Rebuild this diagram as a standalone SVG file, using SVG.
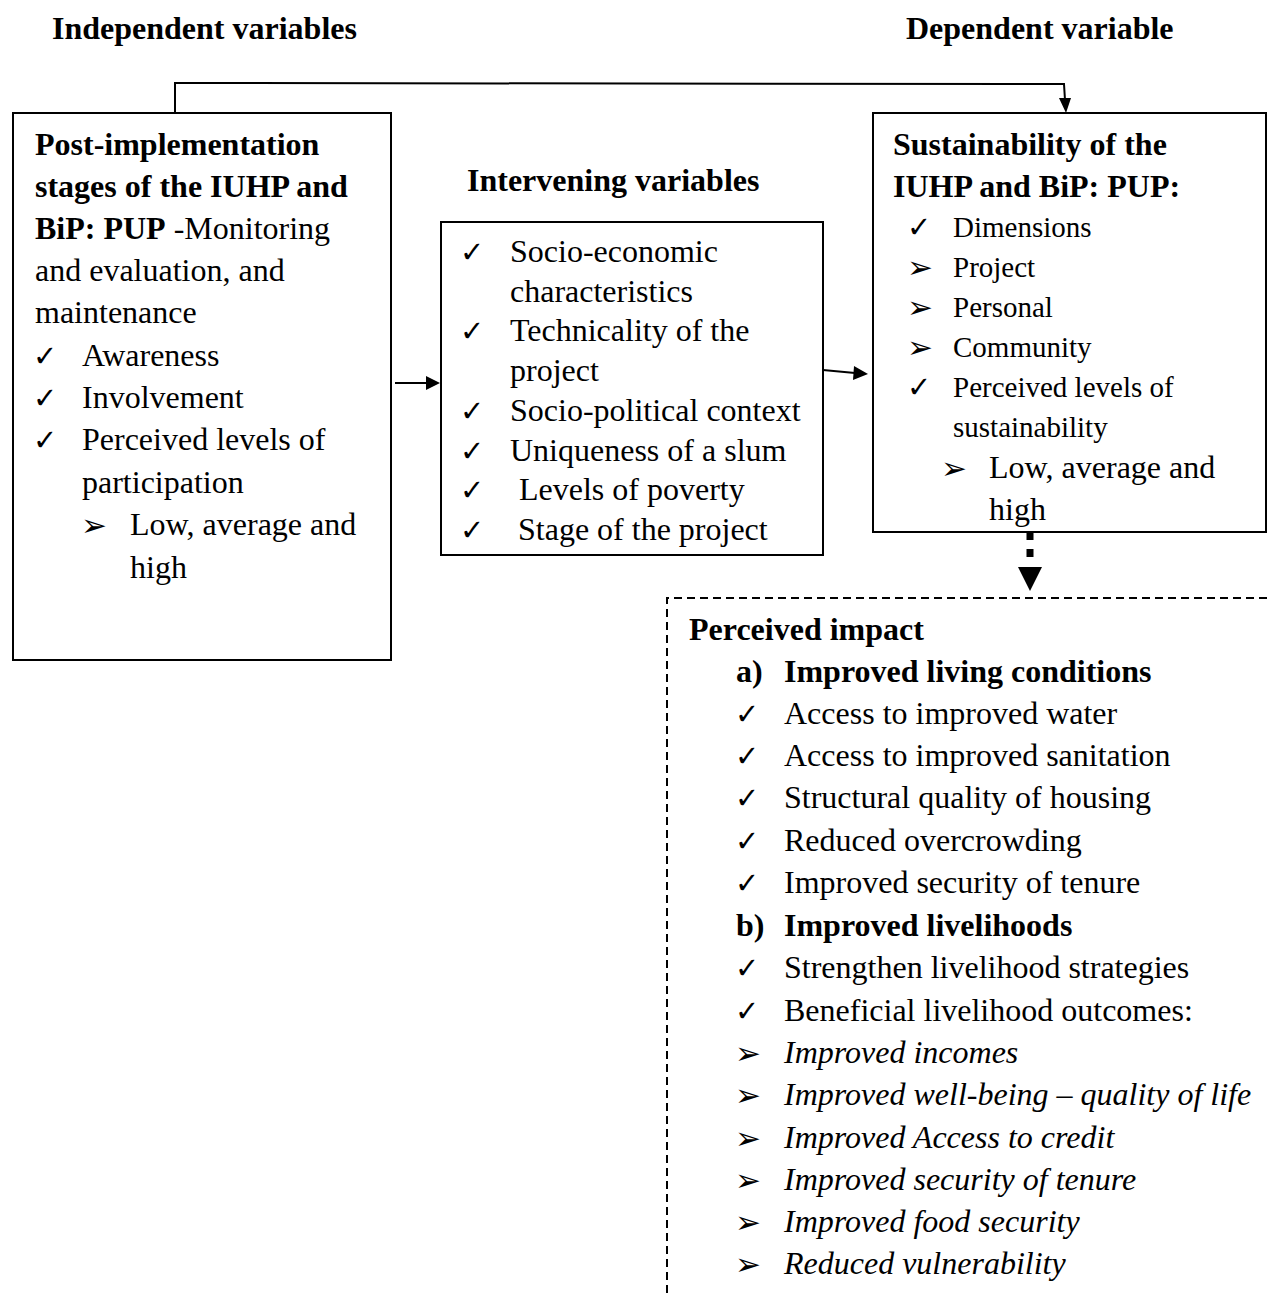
<svg xmlns="http://www.w3.org/2000/svg" width="1270" height="1293" viewBox="0 0 1270 1293">
<style>
text{font-family:"Liberation Serif","Times New Roman",serif;font-size:32px;fill:#000}
.b{font-weight:bold}
.i{font-style:italic}
.s{font-size:29px}
.g{font-family:"DejaVu Sans",sans-serif;font-size:29px}
.a{font-family:"DejaVu Sans",sans-serif;font-size:31px}
.box{fill:#fff;stroke:#000;stroke-width:2}
.conn{fill:none;stroke:#000;stroke-width:2}
</style>
<rect width="1270" height="1293" fill="#fff"/>

<g id="headings">
<text class="b" x="52" y="39">Independent variables</text>
<text class="b" x="906" y="39">Dependent variable</text>
<text class="b" x="467" y="191">Intervening variables</text>
</g>

<g id="connectors">
<polyline class="conn" points="175,113 175,83 1064,84 1065,100"/>
<path d="M1059,98 L1071,98 L1066,113 z" fill="#000"/>
<line class="conn" x1="395" y1="383" x2="428" y2="383"/>
<path d="M426,376 L440,383 L426,390 z" fill="#000"/>
<line class="conn" x1="823" y1="370" x2="855" y2="373"/>
<path d="M854,366 L868,374 L853,380 z" fill="#000"/>
<line x1="1030" y1="532" x2="1030" y2="562" stroke="#000" stroke-width="7" stroke-dasharray="8,9"/>
<path d="M1018,567 L1042,567 L1030,591 z" fill="#000"/>
</g>

<g id="node-independent">
<rect class="box" x="13" y="113" width="378" height="547"/>
<text class="b" x="35" y="155">Post-implementation</text>
<text class="b" x="35" y="197">stages of the IUHP and</text>
<text x="35" y="239"><tspan class="b">BiP: PUP</tspan> -Monitoring</text>
<text x="35" y="281">and evaluation, and</text>
<text x="35" y="323">maintenance</text>
<text class="g" x="33" y="366">✓</text><text x="82" y="366">Awareness</text>
<text class="g" x="33" y="408">✓</text><text x="82" y="408">Involvement</text>
<text class="g" x="33" y="450">✓</text><text x="82" y="450">Perceived levels of</text>
<text x="82" y="493">participation</text>
<text class="a" x="81" y="536">➢</text><text x="130" y="535">Low, average and</text>
<text x="130" y="578">high</text>
</g>

<g id="node-intervening">
<rect class="box" x="441" y="222" width="382" height="333"/>
<text class="g" x="460" y="262">✓</text><text x="510" y="262">Socio-economic</text>
<text x="510" y="302">characteristics</text>
<text class="g" x="460" y="341">✓</text><text x="510" y="341">Technicality of the</text>
<text x="510" y="381">project</text>
<text class="g" x="460" y="421">✓</text><text x="510" y="421">Socio-political context</text>
<text class="g" x="460" y="461">✓</text><text x="510" y="461">Uniqueness of a slum</text>
<text class="g" x="460" y="500">✓</text><text x="519" y="500">Levels of poverty</text>
<text class="g" x="460" y="540">✓</text><text x="518" y="540">Stage of the project</text>
</g>

<g id="node-dependent">
<rect class="box" x="873" y="113" width="393" height="419"/>
<text class="b" x="893" y="155">Sustainability of the</text>
<text class="b" x="893" y="197">IUHP and BiP: PUP:</text>
<text class="g" x="907" y="237">✓</text><text class="s" x="953" y="237">Dimensions</text>
<text class="a" x="907" y="278">➢</text><text class="s" x="953" y="277">Project</text>
<text class="a" x="907" y="318">➢</text><text class="s" x="953" y="317">Personal</text>
<text class="a" x="907" y="358">➢</text><text class="s" x="953" y="357">Community</text>
<text class="g" x="907" y="397">✓</text><text class="s" x="953" y="397">Perceived levels of</text>
<text class="s" x="953" y="437">sustainability</text>
<text class="a" x="941" y="479">➢</text><text x="989" y="478">Low, average and</text>
<text x="989" y="520">high</text>
</g>

<g id="node-impact">
<path d="M667,1293 L667,598 L1270,598" fill="none" stroke="#000" stroke-width="2" stroke-dasharray="8,5"/>
<text class="b" x="689" y="640">Perceived impact</text>
<text class="b" x="736" y="682">a)</text><text class="b" x="784" y="682">Improved living conditions</text>
<text class="g" x="735" y="724">✓</text><text x="784" y="724">Access to improved water</text>
<text class="g" x="735" y="766">✓</text><text x="784" y="766">Access to improved sanitation</text>
<text class="g" x="735" y="808">✓</text><text x="784" y="808">Structural quality of housing</text>
<text class="g" x="735" y="851">✓</text><text x="784" y="851">Reduced overcrowding</text>
<text class="g" x="735" y="893">✓</text><text x="784" y="893">Improved security of tenure</text>
<text class="b" x="736" y="936">b)</text><text class="b" x="784" y="936">Improved livelihoods</text>
<text class="g" x="735" y="978">✓</text><text x="784" y="978">Strengthen livelihood strategies</text>
<text class="g" x="735" y="1021">✓</text><text x="784" y="1021">Beneficial livelihood outcomes:</text>
<text class="a" x="735" y="1064">➢</text><text class="i" x="784" y="1063">Improved incomes</text>
<text class="a" x="735" y="1106">➢</text><text class="i" x="784" y="1105">Improved well-being – quality of life</text>
<text class="a" x="735" y="1149">➢</text><text class="i" x="784" y="1148">Improved Access to credit</text>
<text class="a" x="735" y="1191">➢</text><text class="i" x="784" y="1190">Improved security of tenure</text>
<text class="a" x="735" y="1233">➢</text><text class="i" x="784" y="1232">Improved food security</text>
<text class="a" x="735" y="1275">➢</text><text class="i" x="784" y="1274">Reduced vulnerability</text>
</g>
</svg>
